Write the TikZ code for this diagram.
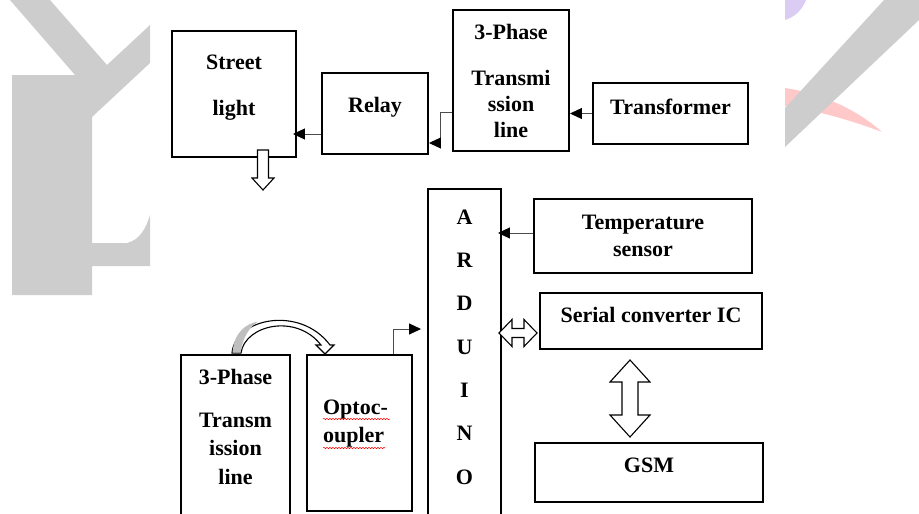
\documentclass[tikz,border=0pt]{standalone}
\usepackage{fontspec}
\setmainfont{Liberation Serif}
\usetikzlibrary{arrows.meta,decorations.pathmorphing}
\definecolor{wmgrey}{HTML}{CDCDCD}
\definecolor{wmpink}{HTML}{FFC9C9}
\definecolor{wmlilac}{HTML}{DACCF3}
\tikzset{
  blk/.style={draw=black,line width=1.9,inner sep=0pt},
  lbl/.style={font=\fontsize{22}{27}\selectfont\bfseries,align=center,inner sep=0pt},
  conn/.style={draw=black!70,line width=1,-{Triangle[length=12pt,width=11pt,color=black]}},
  hollow/.style={draw=black,line width=1.1,fill=white}
}
\begin{document}
\begin{tikzpicture}[x=1pt,y=-1pt]
\useasboundingbox (0,0) rectangle (919,514);
% watermark:
\path[fill=wmgrey] (10,0) -- (50,0) -- (107,65) -- (150,25) -- (150,63) -- (92,117) -- (92,243) -- (127,243) .. controls (140,240) and (146,228) .. (150,215) -- (150,266) -- (92,266) -- (92,295) -- (12,295) -- (12,75) -- (75,75) -- cycle;
\path[fill=wmpink] (785,88) .. controls (825,94) and (860,112) .. (882,132) .. controls (850,120) and (815,110) .. (785,106) -- cycle;
\path[fill=wmlilac] (785,0) -- (806,0) .. controls (802,10) and (795,17) .. (785,20) -- cycle;
\path[fill=wmgrey] (884,0) -- (919,0) -- (919,20) -- (785,147) -- (785,108) -- cycle;
% blocks:
\node[blk,minimum width=124,minimum height=126,label={[lbl,yshift=6.5]center:{Street\\[19pt]light}}] (street) at (234,94) {};
\node[blk,minimum width=106,minimum height=81,label={[lbl,yshift=6]center:Relay}] (relay) at (375,113.5) {};
\node[blk,minimum width=116,minimum height=141,label={[lbl,yshift=0]center:{3-Phase\\[19pt]Transmi\\[-1pt]ssion\\[-1pt]line}}] (tline) at (511,80.5) {};
\node[blk,minimum width=155,minimum height=61,label={[lbl,yshift=7]center:Transformer}] (trans) at (670.5,113.5) {};
\node[blk,minimum width=73,minimum height=331,label={[lbl,yshift=7.5]center:{A\\[16.3pt]R\\[16.3pt]D\\[16.3pt]U\\[16.3pt]I\\[16.3pt]N\\[16.3pt]O}}] (ardu) at (464.5,354.5) {};
\node[blk,minimum width=218,minimum height=74,label={[lbl]center:{Temperature\\sensor}}] (temp) at (643,236) {};
\node[blk,minimum width=222,minimum height=56,label={[lbl,yshift=6]center:Serial converter IC}] (serial) at (651,321) {};
\node[blk,minimum width=228,minimum height=59,label={[lbl,yshift=7.5]center:GSM}] (gsm) at (649,472.5) {};
\node[blk,minimum width=109,minimum height=165,label={[lbl,yshift=10.5]center:{3-Phase\\[16pt]Transm\\[1pt]ission\\[2pt]line}}] (bline) at (235.5,437.5) {};
\node[blk,minimum width=105,minimum height=156,label={[lbl,align=left,yshift=9,xshift=-4]center:{Optoc-\\[1pt]oupler}}] (opto) at (359.5,433) {};
% spell-check marks:
\draw[red,line width=0.5,decorate,decoration={snake,amplitude=0.7pt,segment length=3pt}] (323,419) -- (390,419);
\draw[red,line width=0.5,decorate,decoration={snake,amplitude=0.7pt,segment length=3pt}] (323,448) -- (385,448);
% connectors:
\draw[conn] (trans.west) -- (trans.west -| tline.east);
\draw[conn] (tline.west |- 0,112) -- ++(-12,0) |- (relay.east |- 0,143);
\draw[conn,shorten >=-4] (relay.west |- 0,134) -- (street.east |- 0,134);
\draw[conn,shorten >=-4] (temp.west |- 0,233) -- (ardu.east |- 0,233);
\draw[conn,shorten >=6] ([xshift=34]opto.north) |- (ardu.west |- 0,329);
% hollow arrows:
\path[hollow] (257.5,150) -- (268.5,150) -- (268.5,178) -- (274,178) -- (263,190) -- (252,178) -- (257.5,178) -- cycle;
\path[hollow] (499,333) -- (512,319.5) -- (512,328.5) -- (524,328.5) -- (524,319.5) -- (537,333) -- (524,346.5) -- (524,337.5) -- (512,337.5) -- (512,346.5) -- cycle;
\path[hollow] (630,360) -- (650,382) -- (638,382) -- (638,415) -- (650,415) -- (630,437) -- (610,415) -- (622,415) -- (622,382) -- (610,382) -- cycle;
\path[hollow] (232,353) .. controls (235,318) and (300,305) .. (330,345) -- (334,345) -- (325,354) -- (316,345) -- (321,345) .. controls (296,313) and (245,325) .. (241,353) -- cycle;
\path[fill=black!25] (232.5,352.5) .. controls (234,333) and (245,324) .. (258,321.5) .. controls (250,327) and (243,336) .. (240.5,352.5) -- cycle;
\end{tikzpicture}
\end{document}
